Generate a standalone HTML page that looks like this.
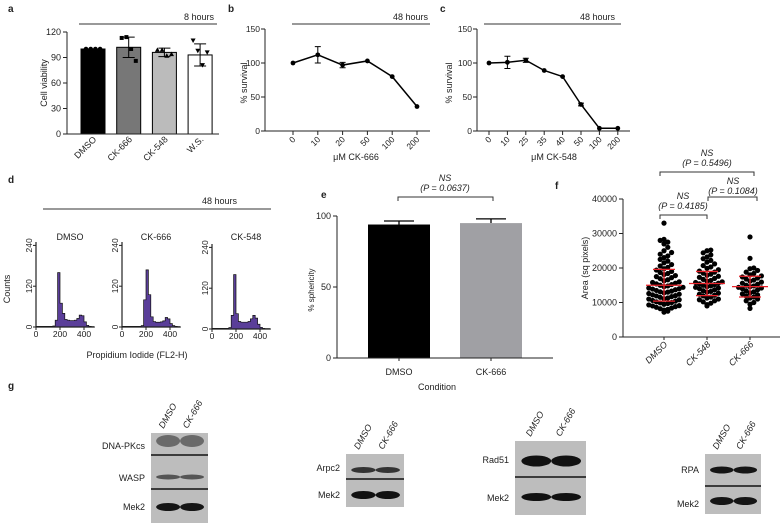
<!DOCTYPE html>
<html><head><meta charset="utf-8"><style>
html,body{margin:0;padding:0;background:#fff}
svg{display:block;font-family:"Liberation Sans",Arial,sans-serif}
</style></head><body>
<svg id="fig" width="784" height="527" viewBox="0 0 784 527" xmlns="http://www.w3.org/2000/svg">
<g id="static" font-size="9" fill="#222">
<text x="8" y="12" font-size="10" font-weight="bold">a</text>
<text x="228" y="12" font-size="10" font-weight="bold">b</text>
<text x="440" y="12" font-size="10" font-weight="bold">c</text>
<text x="8" y="183" font-size="10" font-weight="bold">d</text>
<text x="321" y="198" font-size="10" font-weight="bold">e</text>
<text x="555" y="189" font-size="10" font-weight="bold">f</text>
<text x="8" y="389" font-size="10" font-weight="bold">g</text>
<line x1="79" y1="24" x2="217" y2="24" stroke="#333" stroke-width="1"/>
<text x="214" y="20" text-anchor="end">8 hours</text>
<line x1="292" y1="24" x2="430" y2="24" stroke="#333"/>
<text x="428" y="20" text-anchor="end">48 hours</text>
<line x1="484" y1="24" x2="621" y2="24" stroke="#333"/>
<text x="615" y="20" text-anchor="end">48 hours</text>
<line x1="43" y1="209" x2="271" y2="209" stroke="#333"/>
<text x="237" y="204" text-anchor="end">48 hours</text>
<text transform="translate(47,83) rotate(-90)" text-anchor="middle">Cell viability</text>
<text transform="translate(247,83) rotate(-90)" text-anchor="middle">% survival</text>
<text transform="translate(452,83) rotate(-90)" text-anchor="middle">% survival</text>
<text x="356" y="160" text-anchor="middle">μM CK-666</text>
<text x="554" y="160" text-anchor="middle">μM CK-548</text>
<text transform="translate(10,289) rotate(-90)" text-anchor="middle">Counts</text>
<text x="137" y="358" text-anchor="middle">Propidium Iodide (FL2-H)</text>
<text transform="translate(314,290) rotate(-90)" text-anchor="middle" font-size="8">% sphericity</text>
<text x="437" y="390" text-anchor="middle">Condition</text>
<text transform="translate(588,268) rotate(-90)" text-anchor="middle">Area (sq pixels)</text>
<text x="445" y="181" text-anchor="middle" font-style="italic">NS</text>
<text x="445" y="191" text-anchor="middle" font-style="italic">(P = 0.0637)</text>
<path d="M398,201 V197 H493 V201" fill="none" stroke="#333"/>
<text x="707" y="156" text-anchor="middle" font-style="italic">NS</text>
<text x="707" y="166" text-anchor="middle" font-style="italic">(P = 0.5496)</text>
<path d="M660,176 V172 H754 V176" fill="none" stroke="#333"/>
<text x="733" y="184" text-anchor="middle" font-style="italic">NS</text>
<text x="733" y="194" text-anchor="middle" font-style="italic">(P = 0.1084)</text>
<path d="M708,201 V197 H757 V201" fill="none" stroke="#333"/>
<text x="683" y="199" text-anchor="middle" font-style="italic">NS</text>
<text x="683" y="209" text-anchor="middle" font-style="italic">(P = 0.4185)</text>
<path d="M660,219 V215 H707 V219" fill="none" stroke="#333"/>
</g>
<g id="charts"></g>
<g id="blots"></g>
</svg>
<script>
const aCats = ["DMSO","CK-666","CK-548","W.S."];
const aMeans = [100, 102, 96, 93];
const aErr = [0, 12, 5, 13];
const aPoints = [[100,100,100,100],[113,114,100,86],[99,99,92,94],[110,98,81,96]];
const aTicks = [0,30,60,90,120];
const bCats = ["0","10","20","50","100","200"];
const bVals = [100,112,97,103,80,36];
const bErr = [0,12,4,0,0,0];
const cCats = ["0","10","25","35","40","50","100","200"];
const cVals = [100,101,104,89,80,39,4,4];
const cErr = [0,9,3,0,0,2,0,0];
const survTicks = [0,50,100,150];
const histNames = ["DMSO","CK-666","CK-548"];
const histDMSO = [2,2,2,2,2,2,2,3,20,160,70,40,22,20,19,19,20,25,35,33,15,5,2,1];
const hist666 = [2,2,2,2,2,2,2,2,4,80,168,95,30,16,14,14,15,18,28,24,10,4,2,1];
const hist548 = [2,2,2,2,2,2,2,4,40,160,45,22,20,20,20,22,30,40,32,14,5,2,1,1];
const histTicksY = [0,120,240];
const histTicksX = [0,200,400];
const eCats = ["DMSO","CK-666"];
const eVals = [94, 95];
const eErr = [2.5, 3];
const eTicks = [0,50,100];
const fCats = ["DMSO","CK-548","CK-666"];
const fDMSO = [7.2,7.5,7.8,8,8.2,8.4,8.6,8.8,9,9.1,9.3,9.5,9.7,9.9,10,10.2,10.4,10.6,10.8,11,11.1,11.3,11.5,11.7,11.9,12,12.2,12.4,12.6,12.8,13,13.1,13.3,13.5,13.7,13.9,14,14.2,14.4,14.6,14.8,15,15.2,15.4,15.6,15.8,16,16.3,16.6,16.9,17.2,17.5,17.8,18.1,18.4,18.7,19,19.4,19.8,20.2,20.6,21,21.5,22,22.5,23,23.5,24,24.5,25,26,27,27.5,28,28.3,33];
const fCK548 = [9,9.4,9.8,10.2,10.5,10.8,11,11.3,11.6,11.9,12.1,12.4,12.7,13,13.2,13.4,13.7,14,14.2,14.4,14.6,14.8,15,15.2,15.4,15.6,15.8,16,16.2,16.4,16.7,17,17.3,17.6,17.9,18.2,18.5,18.8,19.1,19.5,19.9,20.3,20.7,21.2,21.7,22.2,22.7,23.2,23.8,24.4,25,25.2];
const fCK666 = [8.3,9.5,10,10.5,11,11.3,11.6,11.9,12.2,12.5,12.8,13.1,13.4,13.7,14,14.2,14.4,14.6,14.8,15,15.3,15.6,15.9,16.2,16.5,16.8,17.1,17.4,17.7,18,18.4,18.8,19.3,19.8,20,22.8,29];
const fMeans = [15000,15500,14600];
const fSD = [4600,3500,3000];
const fTicks = [0,10000,20000,30000,40000];

const NS = "http://www.w3.org/2000/svg";
const root = document.getElementById('charts');
function mk(tag, attrs, parent, text){
  const el = document.createElementNS(NS, tag);
  for (const k in attrs) el.setAttribute(k, attrs[k]);
  if (text !== undefined) el.textContent = text;
  (parent || root).appendChild(el);
  return el;
}
const AX = "#222";

const ya = v => 134 - v * (102/120);
const xa = i => 93 + i * 35.7;
{
  const g = mk('g', {});
  
  
  const fills = ["#000","#777","#bbb","#fff"];
  aCats.forEach((c,i)=>{
    const b = mk('rect',{x:xa(i)-12,y:ya(aMeans[i]),width:24,height:134-ya(aMeans[i]),fill:fills[i],stroke:"#000","stroke-width":1},g);
    
    
    if (aErr[i]>0){
      mk('path',{d:`M${xa(i)},${ya(aMeans[i]+aErr[i])}V${ya(aMeans[i]-aErr[i])}M${xa(i)-6},${ya(aMeans[i]+aErr[i])}h12M${xa(i)-6},${ya(aMeans[i]-aErr[i])}h12`,stroke:"#000",fill:"none"},g);
    }
    aPoints[i].forEach((p,j)=>{
      const px = xa(i) - 7 + j*4.7, py = ya(p);
      let m;
      if (i===0) m = mk('circle',{cx:px,cy:py,r:2.3,fill:"#000"},g);
      else if (i===1) m = mk('rect',{x:px-2,y:py-2,width:4,height:4,fill:"#000"},g);
      else if (i===2) m = mk('path',{d:`M${px},${py-2.5}l2.5,4.5h-5z`,fill:"#000"},g);
      else m = mk('path',{d:`M${px},${py+2.5}l2.5,-4.5h-5z`,fill:"#000"},g);
      
      
    });
    const t = mk('text',{transform:`translate(${xa(i)+4},${140}) rotate(-45)`,"text-anchor":"end","font-size":9,fill:"#222"},g,c);
    
    
  });
  mk('path',{d:"M67,32V134H219",stroke:AX,fill:"none"},g);
  aTicks.forEach(v=>{
    mk('line',{x1:63,x2:67,y1:ya(v),y2:ya(v),stroke:AX},g);
    const t = mk('text',{x:61,y:ya(v)+3,"text-anchor":"end","font-size":9,fill:"#222"},g,String(v));
    
    
  });
}

function lineChart(name, x0, step, axisX, axisEnd, cats, vals, errs){
  const y = v => 131 - v*(102/150);
  const x = i => x0 + i*step;
  const g = mk('g', {});
  
  
  mk('path',{d:`M${axisX},29V131H${axisEnd}`,stroke:AX,fill:"none"},g);
  survTicks.forEach(v=>{
    mk('line',{x1:axisX-4,x2:axisX,y1:y(v),y2:y(v),stroke:AX},g);
    const t = mk('text',{x:axisX-5,y:y(v)+3,"text-anchor":"end","font-size":8.5,fill:"#222"},g,String(v));
    
    
  });
  const l = mk('polyline',{points:vals.map((v,i)=>`${x(i)},${y(v)}`).join(' '),fill:"none",stroke:"#000","stroke-width":1.5},g);
  
  
  cats.forEach((c,i)=>{
    mk('line',{x1:x(i),x2:x(i),y1:131,y2:135,stroke:AX},g);
    const t = mk('text',{transform:`translate(${x(i)+3},${140}) rotate(-45)`,"text-anchor":"end","font-size":8.5,fill:"#222"},g,c);
    
    
    if (errs[i]>0) mk('path',{d:`M${x(i)},${y(vals[i]+errs[i])}V${y(vals[i]-errs[i])}M${x(i)-3},${y(vals[i]+errs[i])}h6M${x(i)-3},${y(vals[i]-errs[i])}h6`,stroke:"#000",fill:"none"},g);
    const p = mk('circle',{cx:x(i),cy:y(vals[i]),r:2.4,fill:"#000"},g);
    
    
  });
}
lineChart('panel-b-chart', 293, 24.8, 265, 430, bCats, bVals, bErr);
lineChart('panel-c-chart', 489, 18.4, 477, 630, cCats, cVals, cErr);

function histo(name, axisX, zeroY, label, counts){
  const g = mk('g', {});
  
  
  const sx = u => axisX + u*0.12;
  const sy = c => zeroY - c*0.34;
  let d = `M${sx(0)},${zeroY}`;
  counts.forEach((c,i)=>{ d += `L${sx(i*20)},${sy(c)}L${sx(i*20+20)},${sy(c)}`; });
  d += `L${sx(counts.length*20)},${zeroY}Z`;
  const h = mk('path',{d,fill:"#5a3e99",stroke:"#111","stroke-width":0.7},g);
  
  
  mk('path',{d:`M${axisX},${sy(250)}V${zeroY}H${sx(490)}`,stroke:AX,fill:"none","stroke-width":1.2},g);
  histTicksY.forEach(v=>{
    mk('line',{x1:axisX-3,x2:axisX,y1:sy(v),y2:sy(v),stroke:AX},g);
    const t = mk('text',{transform:`translate(${axisX-4},${sy(v)}) rotate(-90)`,"text-anchor":"middle","font-size":8.5,fill:"#222"},g,String(v));
    
    
  });
  histTicksX.forEach(v=>{
    mk('line',{x1:sx(v),x2:sx(v),y1:zeroY,y2:zeroY+3,stroke:AX},g);
    const t = mk('text',{x:sx(v),y:zeroY+10,"text-anchor":"middle","font-size":8.5,fill:"#222"},g,String(v));
    
    
  });
  const t = mk('text',{x:axisX+34,y:240,"text-anchor":"middle","font-size":9,fill:"#222"},g,label);
  
  
}
histo('histogram-dmso', 36, 327, histNames[0], histDMSO);
histo('histogram-ck666', 122, 327, histNames[1], hist666);
histo('histogram-ck548', 212, 329, histNames[2], hist548);

{
  const ye = v => 358 - v*(142/100);
  const xe = i => 399 + i*92;
  const g = mk('g', {});
  
  
  const fills = ["#000","#a0a0a4"];
  eCats.forEach((c,i)=>{
    mk('path',{d:`M${xe(i)},${ye(eVals[i])}V${ye(eVals[i]+eErr[i])}M${xe(i)-15},${ye(eVals[i]+eErr[i])}h30`,stroke:"#000","stroke-width":1.3,fill:"none"},g);
    const b = mk('rect',{x:xe(i)-31,y:ye(eVals[i]),width:62,height:358-ye(eVals[i]),fill:fills[i]},g);
    
    
    const t = mk('text',{x:xe(i),y:375,"text-anchor":"middle","font-size":9,fill:"#222"},g,c);
    
    
    mk('line',{x1:xe(i),x2:xe(i),y1:358,y2:361,stroke:AX},g);
  });
  mk('path',{d:"M337,216V358H553",stroke:AX,fill:"none"},g);
  eTicks.forEach(v=>{
    mk('line',{x1:333,x2:337,y1:ye(v),y2:ye(v),stroke:AX},g);
    const t = mk('text',{x:331,y:ye(v)+3,"text-anchor":"end","font-size":9,fill:"#222"},g,String(v));
    
    
  });
}

{
  const yf = v => 337 - v*(138/40000);
  const xf = i => 664 + i*43;
  const g = mk('g', {});
  
  
  mk('path',{d:"M623,199V337H780",stroke:AX,fill:"none"},g);
  fTicks.forEach(v=>{
    mk('line',{x1:619,x2:623,y1:yf(v),y2:yf(v),stroke:AX},g);
    const t = mk('text',{x:617,y:yf(v)+3,"text-anchor":"end","font-size":9,fill:"#222"},g,String(v));
    
    
  });
  [fDMSO,fCK548,fCK666].forEach((arr,i)=>{
    const rows = {};
    arr.forEach(v=>{
      const r = Math.round(v*1000/1700);
      const k = rows[r] = (rows[r]||0) + 1;
      const n = k-1;
      const off = n===0 ? 0 : (n%2 ? 1 : -1) * Math.ceil(n/2) * 3.8;
      const dot = mk('circle',{cx:xf(i)+off,cy:yf(v*1000),r:2.6,fill:"#000"},g);
      
      
    });
    const m = fMeans[i], s = fSD[i];
    const eb = mk('path',{d:`M${xf(i)-18},${yf(m)}h36M${xf(i)},${yf(m-s)}V${yf(m+s)}M${xf(i)-11},${yf(m-s)}h22M${xf(i)-11},${yf(m+s)}h22`,stroke:"#e8232a","stroke-width":1.3,fill:"none"},g);
    
    
    mk('line',{x1:xf(i),x2:xf(i),y1:337,y2:340,stroke:AX},g);
    const t = mk('text',{transform:`translate(${xf(i)+4},${345}) rotate(-45)`,"text-anchor":"end","font-size":9,"font-style":"italic",fill:"#222"},g,fCats[i]);
    
    
  });
}

const broot = document.getElementById('blots');
function blot(name, x, y, w, h, dividers, labels, bands){
  const g = mk('g', {}, broot);
  
  
  mk('rect',{x,y,width:w,height:h,fill:"#bdbdbd"},g);
  bands.forEach(b=>{
    [0.3,0.72].forEach(f=>{
      const e = mk('ellipse',{cx:x+w*f,cy:b.y,rx:w*0.21,ry:b.h,fill:b.c},g);
      
      
    });
  });
  dividers.forEach(d=>mk('line',{x1:x,x2:x+w,y1:d,y2:d,stroke:"#111","stroke-width":1.5},g));
  labels.forEach(l=>{
    const t = mk('text',{x:x-6,y:l.y+3,"text-anchor":"end","font-size":9,fill:"#222"},g,l.t);
    
    
  });
  ["DMSO","CK-666"].forEach((c,i)=>{
    const t = mk('text',{transform:`translate(${x+w*(i?0.64:0.22)},${y-4}) rotate(-60)`,"font-size":9,"font-style":"italic",fill:"#222"},g,c);
    
    
  });
}
blot('blot-dna-pkcs-wasp', 151, 433, 57, 90, [455,489], [{t:"DNA-PKcs",y:446},{t:"WASP",y:478},{t:"Mek2",y:507}],
  [{y:441,h:6,c:"#6a6a6a"},{y:477,h:2.5,c:"#555"},{y:507,h:4,c:"#151515"}]);
blot('blot-arpc2', 346, 454, 58, 53, [479], [{t:"Arpc2",y:468},{t:"Mek2",y:495}],
  [{y:470,h:3,c:"#333"},{y:495,h:4,c:"#111"}]);
blot('blot-rad51', 515, 441, 71, 74, [477], [{t:"Rad51",y:460},{t:"Mek2",y:498}],
  [{y:461,h:5.5,c:"#111"},{y:497,h:4,c:"#111"}]);
blot('blot-rpa', 705, 454, 56, 60, [486], [{t:"RPA",y:470},{t:"Mek2",y:504}],
  [{y:470,h:3.5,c:"#151515"},{y:501,h:4,c:"#151515"}]);
</script>
</body></html>
